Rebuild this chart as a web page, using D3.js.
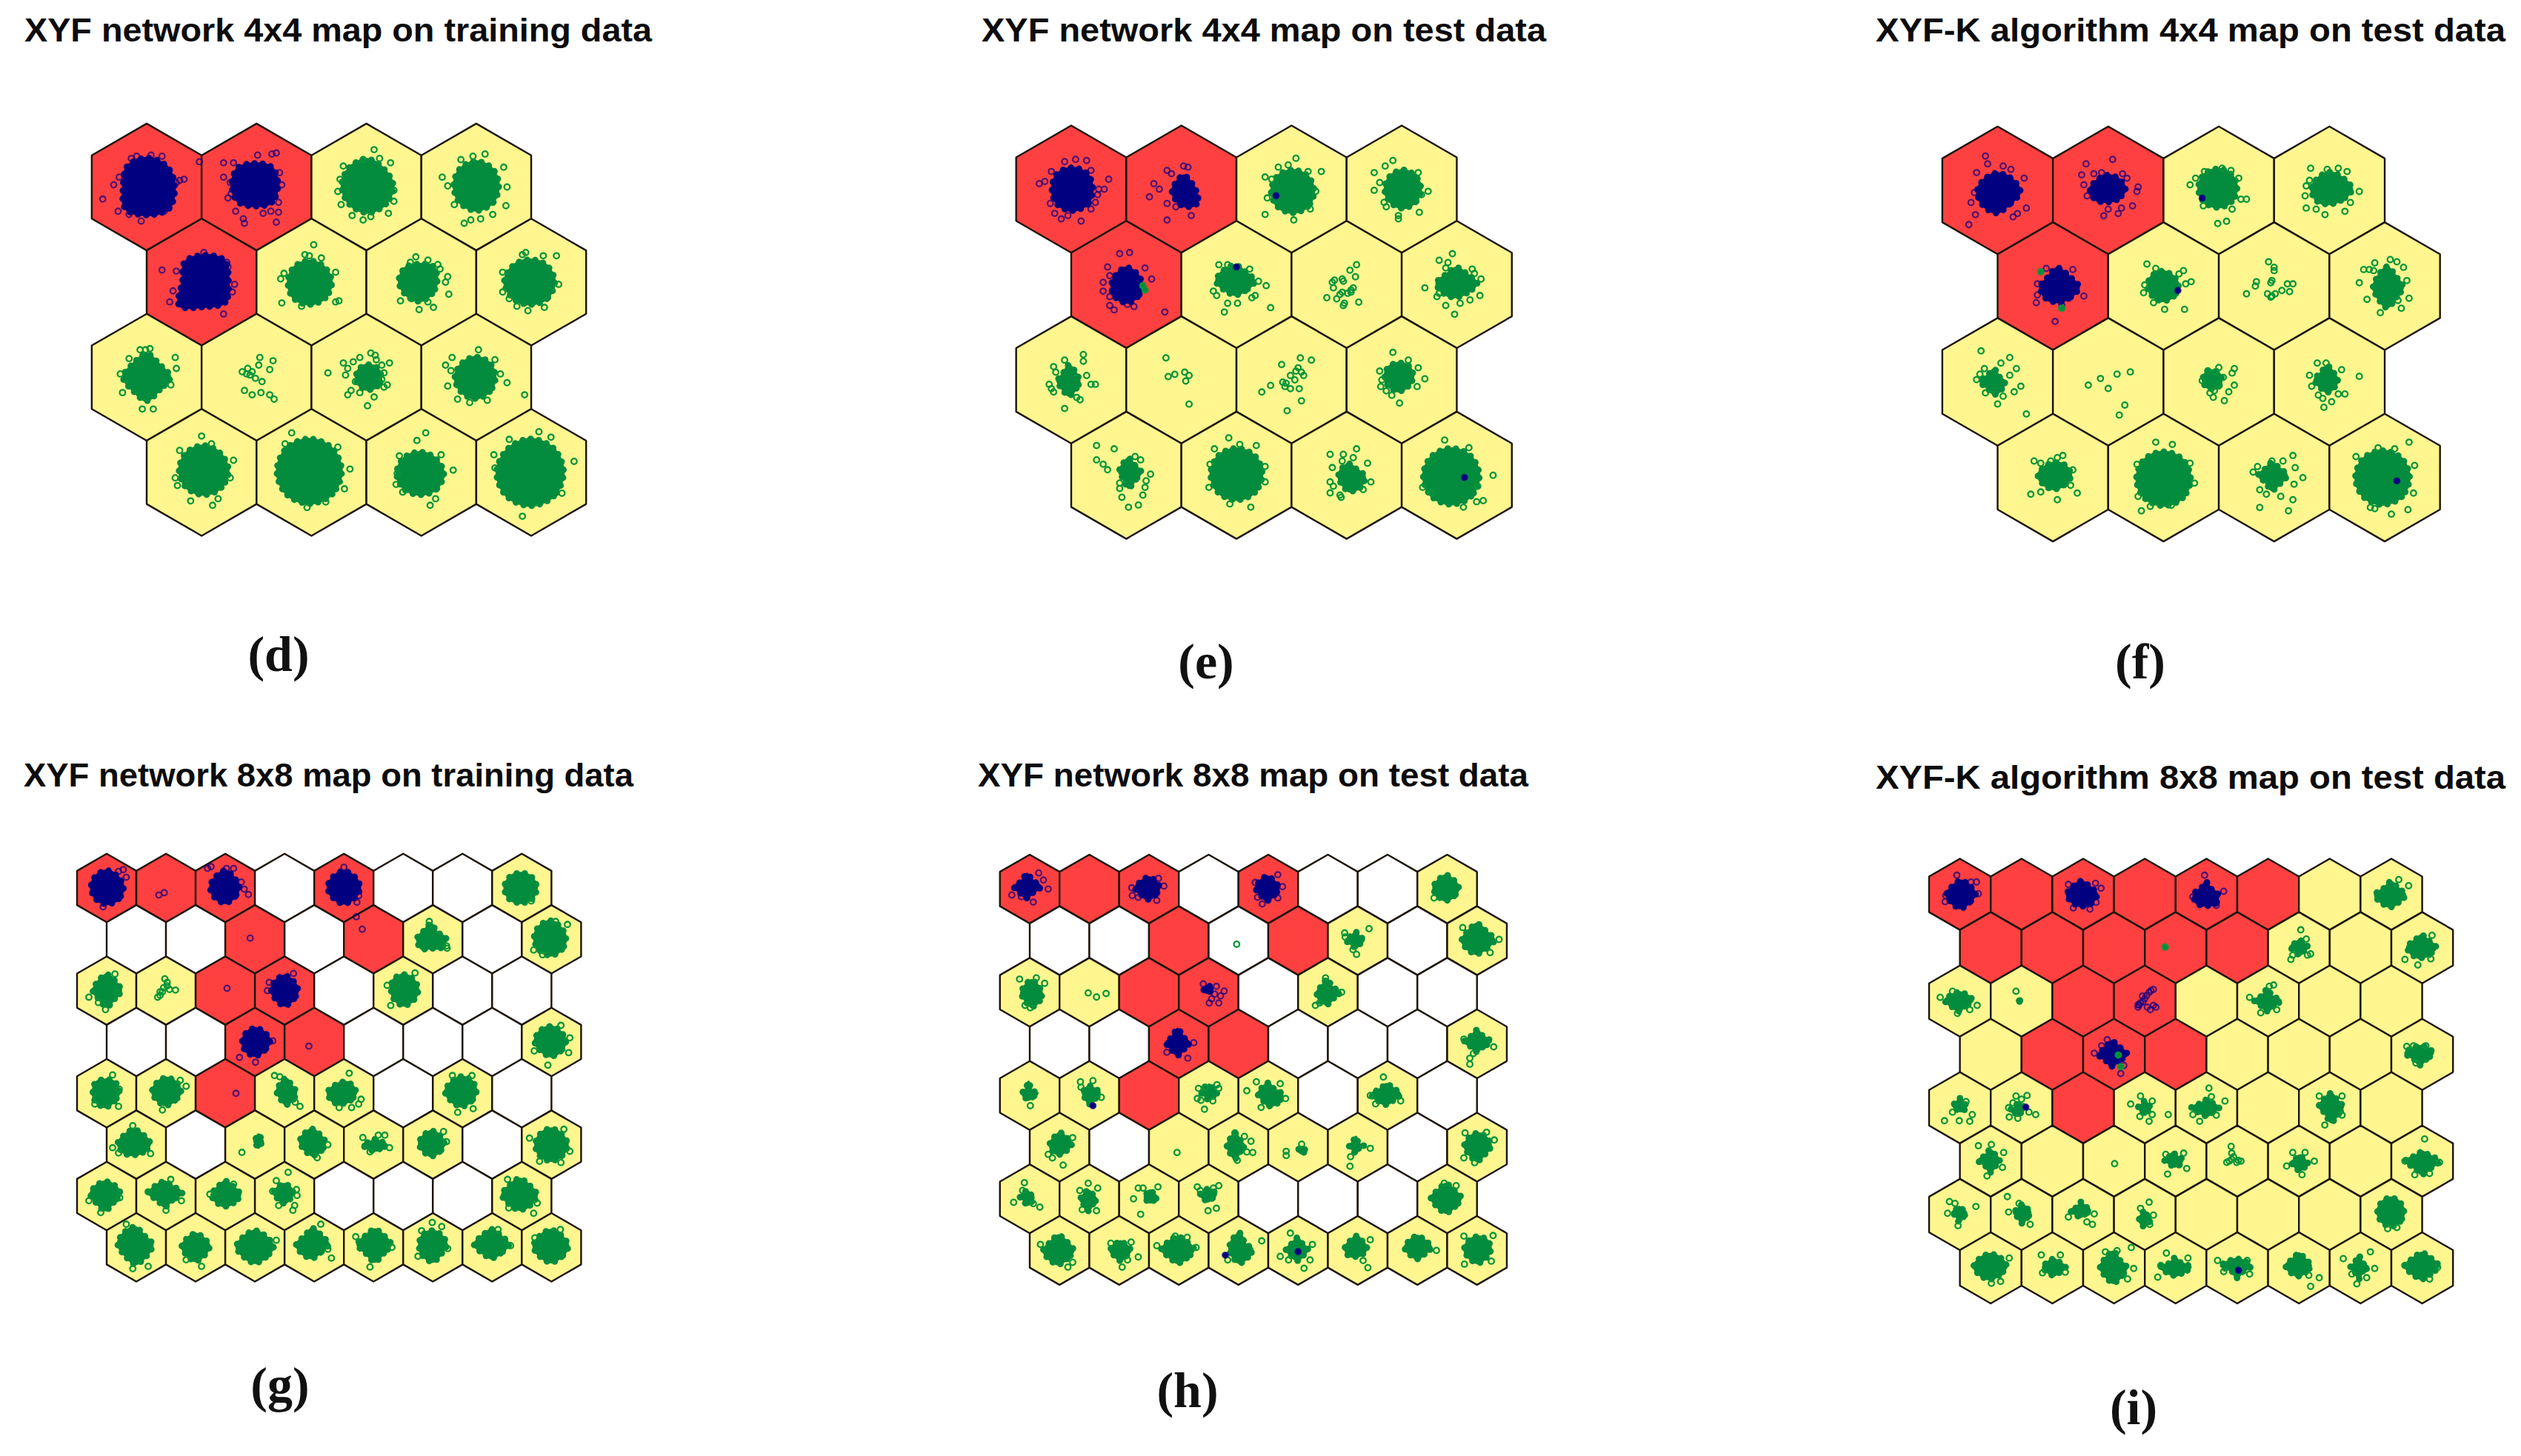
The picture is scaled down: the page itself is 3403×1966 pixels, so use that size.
<!DOCTYPE html>
<html>
<head>
<meta charset="utf-8">
<script src="https://cdn.jsdelivr.net/npm/d3@7"></script>
<style>
    html, body { margin: 0; background: #fff; }
</style>
</head>
<body>
<div id="canvas"></div>
<script>
// cell class per map row: R = class 1, Y = class 2, W = no unit class
var grid4 = ['RRYY', 'RYYY', 'YYYY', 'YYYY'];
var gridG = ['RRRWRWWY', 'WWRWRYWY', 'YYRRWYWW', 'WWRRWWWY', 'YYRYYWYW', 'YWYYYYWY', 'YYYYWWWY', 'YYYYYYYY'];
var gridI = ['RRRRRRYY', 'RRRRRYYY', 'YYRRYYYY', 'YRRRYYYY', 'YYRYYYYY', 'YYYYYYYY', 'YYYYYYYY', 'YYYYYYYY'];

// clouds, in hundredths of a map unit from the unit centre:
// [row, col, core (cx, cy, eight radii clockwise from east) or null, points, points of the other class]
var cloudsD = [
    [0,0,[1,0,27,30,28,31,25,29,29,28],[-40,11,-30,-2,-25,-9,34,-7,27,-4,14,-28,4,-29,-5,31,-26,22,16,22,48,-23,-9,-28,-14,-26,30,-6,20,18,-16,25]],
    [0,1,[-2,-2,24,25,22,24,23,24,22,25],[-30,-22,-21,-22,-30,-9,1,-29,14,-30,18,-31,-26,10,-19,22,-12,29,-11,33,6,24,13,22,20,23,18,32,23,-2,21,-13,20,14,-24,-4,-23,6]],
    [0,2,[1,-1,26,26,27,26,26,26,27,24],[7,-34,-3,-25,22,-22,-21,-19,-23,16,-3,30,20,24,-24,-7,25,3,12,-26,25,13,-26,4,4,27,-13,26]],
    [0,3,[0,-1,23,24,25,24,23,24,25,24],[8,-30,-31,-9,-26,-1,-11,33,25,-18,28,0,27,17,-20,16,15,25,4,29,-14,-25,-3,-28,-5,30]],
    [1,0,[2,-1,25,30,26,34,22,27,26,29],[2,-27,-36,-11,-26,8,-29,18,-20,13,30,2,28,9,21,13,20,29,-23,-10,23,-18,24,-14]],
    [1,1,[-2,0,23,23,23,23,22,22,22,22],[2,-34,-27,19,22,-9,22,18,-9,22,-6,-25,-28,-3,-2,-24,9,-22,25,17,-25,-8]],
    [1,2,[-2,-1,19,19,21,20,21,20,18,21],[-5,-23,6,-20,25,11,-19,17,-2,25,11,23,22,0,15,-16,-9,15,-10,-18,17,-12,24,-5,6,18]],
    [1,3,[-1,0,25,24,23,24,26,24,23,24],[23,-24,-5,-27,-26,9,-20,15,-3,26,12,23,25,2,-13,22,-8,-25,11,-24,-26,-9]],
    [2,0,[0,0,24,19,24,20,24,20,24,19],[26,-18,-16,-17,-22,14,-4,29,6,29,22,7,-1,-25,27,-8,-24,-3,-6,-25,3,-26]],
    [2,1,null,[3,-18,15,-15,12,-7,2,-11,-8,-8,-13,-5,-6,-2,-1,1,5,4,-11,12,-4,16,4,14,12,16,16,20,-4,-5,-9,-3]],
    [2,2,[2,0,14,14,14,14,14,14,14,14],[-35,-4,4,-22,21,-13,-21,-13,-12,-14,-17,16,-6,14,7,18,1,26,19,7,-19,-2,9,-16,16,-4,-10,4,14,2,-6,-18,-17,-8,8,-20,16,9,-14,12,14,-11]],
    [2,3,[-1,0,21,21,22,21,21,20,21,21],[-22,-18,-28,-11,44,16,28,5,17,-16,-6,23,-26,8,2,-25,-17,20,10,21,-23,-6,22,-3]],
    [3,0,[2,-2,25,25,25,25,25,25,25,24],[0,-33,-20,-20,29,-11,10,30,-22,12,26,5,9,-26,-10,26,15,24,-24,5]],
    [3,1,[-2,-1,32,32,32,32,32,32,32,32],[-18,-36,35,-3,24,-23,-4,32,13,27,-24,-26,30,15]],
    [3,2,[-1,1,24,23,22,23,24,23,22,22],[4,-36,-4,-29,18,-16,29,-2,8,30,13,24,-22,1,-17,18,-20,-15,-23,11]],
    [3,3,[-1,0,33,33,33,33,33,32,33,33],[7,-37,39,-10,-8,40,18,-32,28,19,-34,-16,-33,-4,-20,-30]]
];
var cloudsE = [
    [0,0,[1,0,21,22,22,22,21,22,22,22],[-29,-5,-18,-16,-6,-25,4,-27,14,-26,34,-9,30,0,18,-17,-19,13,-9,27,9,29,22,12,18,18,-3,24,25,0,-24,-7,-15,22,24,5]],
    [0,1,[2,2,14,19,16,13,13,13,17,13],[-13,-17,2,-21,-25,-5,-20,0,-29,7,-13,13,-13,28,9,24,-5,16,-9,-14,6,-20,15,8]],
    [0,2,[1,2,22,22,22,22,22,22,22,22],[4,-28,27,-16,15,-16,-12,-20,-24,-11,-24,23,2,28,17,18,22,2,-22,8,-18,-9,-3,-22]],
    [0,3,[1,0,19,19,20,19,19,19,20,19],[-8,-26,-15,-21,-25,-15,-20,-6,-25,1,24,2,16,21,-3,27,-14,16,15,-15,-16,12,-3,24,18,5]],
    [1,0,[0,1,17,17,18,17,16,16,19,17],[-6,-28,3,-29,-17,-16,-21,-2,-21,6,23,-5,17,-15,-15,19,-11,23,35,25,1,18,-15,-8,-15,11,7,20]],
    [1,1,[-1,-3,20,15,15,15,20,17,17,15],[-16,-18,-8,-18,27,1,17,10,31,21,-11,25,1,17,-8,17,20,-3,-18,10,-21,6,12,-14,14,12]],
    [1,2,null,[9,-18,3,-13,8,-7,-13,-2,-4,-5,6,3,1,8,-6,9,-18,12,-9,13,11,16,-3,19,-12,3,-4,7,4,7,-3,-3,-11,-4,-2,17,4,5]],
    [1,3,[0,-1,21,15,15,17,21,15,17,15],[-4,-28,-16,-22,-8,-20,-29,3,22,-5,21,10,12,14,-2,27,3,17,-18,11,-10,19,14,-14,-10,-15,16,-10,-16,8]],
    [2,0,[-2,1,12,12,16,12,13,11,17,12],[11,-23,-6,-18,-16,-12,14,-4,22,4,18,4,-18,8,-20,4,5,16,-6,26,11,-17,-14,-7,-16,11,8,18]],
    [2,1,null,[-14,-20,-12,-3,-6,-5,3,-7,7,-4,4,1,7,22]],
    [2,2,null,[-9,-14,8,-20,18,-18,4,-8,9,-7,-1,-4,-8,2,-1,8,7,8,-19,5,-27,11,9,19,-4,28,11,-4,-6,6,3,0,6,-11,-5,3]],
    [2,3,[-3,-3,16,15,16,15,15,15,15,16],[-8,-25,-20,-8,-19,6,15,-11,21,-1,-2,21,-9,14,6,-18,-18,0,-14,10,14,6]],
    [3,0,[2,-3,14,12,17,10,11,11,15,11],[-27,-27,-11,-24,13,-14,-27,-14,-17,-5,22,-1,15,18,-4,20,2,29,11,27,17,11,-6,7,-6,12,8,-17,18,5,-21,-10]],
    [3,1,[0,-1,26,26,26,26,26,26,26,26],[-7,-34,18,-27,-20,-24,-25,11,26,6,13,29,3,-28,-24,-10,-6,26,26,-8]],
    [3,2,[2,1,17,17,16,12,12,12,14,12],[9,-24,-3,-19,-15,-19,19,-11,22,6,-15,6,-15,16,-5,20,-13,-7,-4,-13,15,13,6,-16,-6,18,-12,10]],
    [3,3,[-5,1,28,28,28,28,28,28,28,28],[-11,-32,33,0,24,23,18,24,-31,11,-23,16,11,-25,-25,-12,6,29,19,10]]
];
var cloudsF = [
    [0,0,[-1,1,24,19,22,20,20,18,19,20],[-11,-31,-9,-24,-19,-16,5,-22,-24,11,-20,22,-26,31,26,16,14,24,24,-11,12,-19,-21,2,18,21]],
    [0,1,[-2,-1,20,16,14,16,17,14,15,17],[-20,-24,4,-28,13,-15,17,-11,-24,-14,-22,-5,27,-3,22,14,-4,23,9,21,0,17,26,1,-6,-16,-13,-15,-19,5,12,16]],
    [0,2,[-1,-2,20,20,20,20,20,20,20,20],[-26,-5,-21,-11,11,-18,18,-11,25,8,20,8,-1,30,7,28,12,17,-13,-17,3,-20,-14,14]],
    [0,3,[0,-1,23,17,16,18,19,17,18,18],[-17,-20,-21,-4,-22,5,-21,16,-12,17,-4,22,8,-20,16,-17,27,1,14,19,-18,-9,-2,-19,19,11]],
    [1,0,[4,1,22,17,16,17,18,15,20,17],[2,32,28,9,-15,15,8,17,18,-15,-14,-2,-6,-16,-14,8,20,3]],
    [1,1,[-1,-1,17,17,17,16,16,15,15,15],[-15,-20,18,-14,25,-4,19,21,1,21,-9,15,-18,6,20,-2,-7,-16,-17,-1,14,-11]],
    [1,2,null,[-5,-22,0,-14,-16,-4,-17,0,-25,7,-2,-5,17,-2,12,-2,7,4,14,5,-6,7,-2,9,1,7,-3,-3,0,-17,-3,10]],
    [1,3,[2,1,17,15,21,15,15,15,21,15],[-19,-15,-14,-15,-9,-21,5,-24,11,-22,17,-17,-23,-3,-16,12,22,11,15,20,20,-5,-10,-14,12,13,-4,24]],
    [2,0,[-3,0,12,12,14,11,15,11,14,9],[-15,-28,11,-22,3,-17,17,-12,11,-6,21,4,15,9,-19,-2,26,29,0,20,-11,10,-12,-12,-16,-7,5,13]],
    [2,1,null,[-18,3,-7,-3,0,6,8,-7,20,-9,15,21,10,30]],
    [2,2,[-6,-2,11,11,11,11,11,11,11,11],[0,-13,14,-12,12,-8,14,3,9,9,5,17,-5,14,-4,8,-15,-1,0,2,-10,-10,4,-4,-3,-9,-8,10]],
    [2,3,[-2,-2,12,12,14,12,14,11,15,11],[-11,-17,27,-5,-18,-6,11,-11,14,11,-10,12,-5,23,2,18,-16,4,-3,-17,8,11,-6,15]],
    [3,0,[1,-2,18,15,15,15,17,14,14,16],[-20,15,22,14,4,20,-11,13,-17,-15,-2,-15,9,-20,18,-7,-11,-13,16,7,4,-18]],
    [3,1,[0,1,27,27,27,27,27,27,27,27],[-7,-32,8,-30,-20,30,28,5,24,-13,-23,17,7,25,-24,-12,-12,26]],
    [3,2,[-2,-2,16,13,16,11,15,11,14,12],[17,-20,-19,-5,26,0,17,20,13,30,-13,27,6,17,-7,15,-2,-15,19,-9,-13,11,8,-15,18,6,-15,-10]],
    [3,3,[-2,0,27,27,27,27,27,27,27,27],[22,-32,27,-11,6,33,-26,-19,21,29,9,-26,-9,28,-13,27,26,14,-6,-27]]
];
var cloudsG = [
    [0,0,[1,-1,32,32,33,32,32,32,33,30],[28,-31,33,-18,-6,32,20,-28]],
    [0,1,null,[-12,12,-3,8]],
    [0,2,[0,-2,28,28,32,30,30,28,32,26],[-30,-33,39,11,27,-10,32,2,-24,-36,2,-33,14,-33]],
    [0,4,[0,-1,32,30,32,30,32,30,32,30],[22,24,25,13,0,-35]],
    [0,7,[-2,-1,32,32,31,32,32,30,29,30],[16,22]],
    [1,2,null,[-8,-2]],
    [1,4,null,[-29,-38,-19,-17]],
    [1,5,[-3,-2,30,28,22,29,28,22,29,19],[23,11,-6,-30,24,15]],
    [1,7,[-2,-2,31,32,34,32,32,32,34,30],[27,-25,7,-30,-15,26,-30,18]],
    [2,0,[0,0,29,24,32,24,28,26,32,26],[-30,11,-2,32,18,3,14,-28,-14,20]],
    [2,1,null,[-2,-20,2,-14,-6,2,-14,11,-10,2,6,-2,16,-1,2,-8,-10,8,-4,-5]],
    [2,2,null,[3,-4]],
    [2,3,[0,-2,27,27,32,27,27,26,28,25],[15,-29,-26,-14,-29,0]],
    [2,5,[1,-2,29,29,32,28,26,29,30,28],[-27,-9,-21,25,20,-30]],
    [3,2,[1,-1,29,26,29,28,27,26,27,26],[1,34,30,-2,-26,26]],
    [3,3,null,[-9,7]],
    [3,7,[-1,-1,30,28,30,28,32,30,30,28],[31,-7,29,18,-6,39,-29,15,16,-28]],
    [4,0,[-2,-2,28,26,30,28,26,28,26,28],[10,-31,21,-7,-20,18,20,22]],
    [4,1,[0,-3,30,26,28,26,28,26,28,28],[34,-12,24,-22,-6,28]],
    [4,2,null,[18,0]],
    [4,3,[2,-3,22,23,27,19,20,20,27,19],[-17,-30,26,22,18,15,-8,-28]],
    [4,4,[-2,-2,27,24,24,28,30,22,22,24],[9,-34,29,10,13,24,-8,24,25,18]],
    [4,6,[-2,-3,30,28,30,28,32,28,30,30],[16,-30,-17,-30,-8,32,18,26]],
    [5,0,[-4,-2,32,26,24,28,32,26,28,26],[-40,5,24,15,-6,-32,-30,14]],
    [5,2,[6,-6,12,11,16,11,12,11,16,11],[-22,13]],
    [5,3,[-3,-5,26,26,28,24,26,24,26,22],[23,0,5,22]],
    [5,4,[3,0,24,15,15,17,26,13,14,14],[19,-16,27,5,-18,-12,-6,12,8,-16]],
    [5,5,[-2,-2,26,24,26,24,26,24,26,24],[18,-22,23,-5]],
    [5,7,[-1,0,33,31,32,31,31,30,32,30],[-37,-11,21,-26,31,11,16,30,-20,28]],
    [6,0,[-2,-3,30,24,32,26,30,26,26,26],[22,3,-10,28,-30,8]],
    [6,1,[-2,-5,34,22,28,22,32,24,24,22],[8,-28,-30,-7,26,8,0,24]],
    [6,2,[0,-2,30,24,24,24,28,23,28,24],[-26,-3,14,-20]],
    [6,3,[-1,-5,20,19,22,19,22,19,20,19],[6,-40,-14,-26,20,-11,17,16,21,-1,-10,16,-20,-8,14,24]],
    [6,7,[-4,-2,34,30,30,28,34,28,32,28],[20,29,-24,-28,26,12,-22,20]],
    [7,0,[-2,-5,34,32,38,30,34,32,34,26],[20,32,-17,-39,-6,36]],
    [7,1,[0,-2,28,26,30,26,28,24,26,24],[10,32,-16,21]],
    [7,2,[0,-1,36,30,32,30,36,30,32,30],[36,-12]],
    [7,3,[-3,-5,32,24,28,28,32,24,32,26],[11,-39,29,18,23,3]],
    [7,4,[2,-5,32,26,34,26,34,26,30,26],[-30,-18,31,0,-6,33]],
    [7,5,[0,-5,28,26,34,30,28,28,28,26],[-1,-42,15,-35,-25,15,-19,-28,25,2]],
    [7,6,[-1,-5,34,26,28,26,34,26,30,26],[31,-3,10,-30]],
    [7,7,[-1,-2,34,30,32,30,34,30,32,30],[-28,-16,15,-30]]
];
var cloudsH = [
    [0,0,[-5,-4,28,19,24,20,26,17,26,19],[-30,10,31,0,15,-27,23,-15,-14,13,6,22]],
    [0,2,[-2,-2,24,22,24,21,26,20,22,22],[-29,-2,25,-5,13,19,-28,11,-18,14,16,-18]],
    [0,4,[-2,-2,24,22,26,21,24,21,24,21],[-22,-11,16,-24,16,15,-10,25,24,-4,-18,14]],
    [0,7,[-2,-2,26,24,26,24,26,23,26,23],[-22,15]],
    [1,3,null,[-3,6]],
    [1,5,[-3,-1,18,14,18,15,22,15,18,13],[19,-20,-21,-6,-2,23,-8,15,-22,-13]],
    [1,7,[0,-1,34,25,28,27,30,26,32,26],[37,-2,-24,-22,22,20]],
    [2,0,[3,1,22,24,28,21,22,21,26,21],[-17,-22,11,-24,25,-15,1,26,-8,22]],
    [2,1,null,[-2,1,12,8,28,2]],
    [2,3,[-1,-5,12,10,11,11,12,11,10,11],[26,-2,13,-10,5,11,17,18,1,18,10,3,-9,-14,20,6]],
    [2,5,[-1,-1,26,20,26,24,22,18,26,16],[-21,22,23,0,-14,18,-4,-24]],
    [3,2,[-2,-2,24,20,26,20,24,18,28,18],[25,-2,15,24,-20,14]],
    [3,7,[0,-4,28,18,22,18,26,18,24,18],[28,5,-12,34,-22,-8,-12,24,-6,16]],
    [4,0,[-2,-4,20,14,16,14,16,12,24,12],[1,17]],
    [4,1,[0,-5,22,19,24,16,16,14,16,15],[-15,-23,6,-25,20,3,-14,-14]],
    [4,3,[1,-5,18,14,18,14,18,14,18,14],[-17,-12,17,-12,-13,8,-7,23,7,9,-19,5,14,-18,-6,-14]],
    [4,4,[0,-2,28,26,24,18,22,20,24,18],[-36,-8,29,5,-20,-23,-12,20,20,-20]],
    [4,6,[-2,-2,28,20,22,22,30,18,22,20],[-7,-31,-29,0,22,9,-20,14]],
    [5,0,[1,-5,24,20,22,22,22,20,24,20],[-19,12,6,30,22,-16,-12,18]],
    [5,2,null,[-3,9]],
    [5,3,[-6,-2,20,18,26,18,18,18,26,18],[24,9,21,-10,-6,-24,14,8,-2,22,10,-18]],
    [5,4,[6,5,10,10,10,10,10,10,10,10],[6,-5,-20,7,-20,14]],
    [5,5,[-3,-2,18,11,18,13,16,13,20,11],[21,2,-13,32,-12,16]],
    [5,7,[0,-2,28,24,30,24,26,24,26,26],[29,-12,-20,-24,16,-25,-4,26,-22,18]],
    [6,0,[-5,-3,16,16,18,12,16,12,16,12],[-27,6,-9,-27,17,14,6,8,-12,-14]],
    [6,1,[-2,1,18,16,24,16,18,16,20,16],[-2,-26,-16,-14,14,-18,-12,18,12,20]],
    [6,2,[2,-3,16,13,14,13,14,13,16,13],[-26,0,-14,26,-18,-18,15,-20,-10,-18]],
    [6,3,[-1,-7,18,14,16,15,18,14,14,15],[-19,-20,13,16,-1,20,17,-22,-14,-14,8,-18]],
    [6,7,[-2,-2,30,26,30,26,30,23,28,23],[15,-22,-5,-26]],
    [7,0,[-2,0,30,25,28,26,30,24,30,25],[-32,-10,14,28,22,20]],
    [7,1,[2,0,22,18,22,18,22,18,20,18],[32,11,5,28,20,-14,-14,-12,14,16]],
    [7,2,[-2,-2,32,26,28,24,32,24,26,24],[29,-5,-37,-8,-6,-24,14,-22]],
    [7,3,[2,-2,26,24,28,22,22,24,32,18],[39,-16,-18,16]],
    [7,4,[-1,-2,22,19,24,20,24,18,24,17],[-13,-29,24,-10,-30,10,10,30,-16,16,20,16]],
    [7,5,[-2,-5,22,20,20,24,24,20,24,19],[17,29,21,-18,9,17]],
    [7,6,[0,-5,28,21,24,22,26,22,24,22],[32,0]],
    [7,7,[2,-2,26,24,28,26,28,26,26,26],[-21,23,27,-25,-22,-24,24,18]]
];
var cloudsI = [
    [0,0,[2,-1,28,24,28,26,28,23,26,23],[-5,-31,-23,2,27,-20,30,-1,18,-20,-24,12]],
    [0,2,[-3,0,30,26,24,24,28,23,26,23],[29,-10,-24,-16,11,24,21,13,-16,22,20,-18]],
    [0,4,[-1,-1,24,27,24,26,24,16,24,16],[-3,-31,28,-5,-22,4,16,18]],
    [0,7,[-1,1,28,22,24,24,30,20,26,21],[28,-14,12,-24]],
    [1,3,null,[]],
    [1,5,[1,-1,18,14,18,14,20,14,16,14],[3,-29,19,10,-13,19,12,-14,14,12,-10,12]],
    [1,7,[-1,-1,28,22,22,24,28,20,24,20],[-28,19,-7,28,16,-20,14,18]],
    [2,0,[-1,-1,26,18,22,20,28,19,18,19],[-32,-6,28,7,16,14,-4,20,-12,-16]],
    [2,1,[-5,-1,7,7,7,7,7,7,7,7],[-9,-16]],
    [2,3,null,[14,-19,7,-14,0,-4,-7,3,-11,10,14,7,4,10,-4,-8,9,14,-9,6,-3,1,3,-9,10,-17,-11,6,18,10]],
    [2,5,[-1,-1,26,18,22,18,26,16,24,15],[-30,-6,-12,19,9,-26,2,-24,14,14]],
    [3,2,[-4,0,30,20,24,18,26,19,26,22],[-32,-2,11,31,-11,-24,16,18,-20,-14]],
    [3,7,[-4,-2,26,19,24,18,28,18,16,19],[-25,-13,-14,-14,6,-14,-10,14]],
    [4,0,[0,-4,14,15,14,13,16,12,16,12],[-25,21,-1,21,16,22,20,11,-12,7,10,-10]],
    [4,1,[-6,4,14,11,14,11,18,11,16,16],[-20,15,-21,0,23,11,12,7,-9,-19,9,-20,-6,17,0,-14,-14,-8]],
    [4,3,[0,0,14,12,16,12,16,12,16,12],[-23,-6,-7,-19,38,11,12,11,7,22,12,-11,-8,14]],
    [4,4,[1,0,24,16,18,18,30,16,18,16],[4,-32,30,-11,-22,11,-11,22,8,-18,16,12]],
    [4,6,[2,-2,24,22,30,19,24,21,26,19],[20,-19,-17,-19,-8,28,20,12]],
    [5,0,[-1,-1,20,17,24,16,24,16,22,17],[-20,-25,1,-27,21,-14,19,10,-6,24]],
    [5,2,null,[1,4]],
    [5,3,[-4,-3,20,18,16,14,20,12,16,12],[-13,21,13,-13,-16,-11,18,12]],
    [5,4,null,[-10,-24,-9,-13,-9,-3,-17,2,-1,2,6,0,-6,-7,-13,0,2,-1]],
    [5,5,[1,2,18,16,18,15,18,13,16,13],[-20,8,25,0,5,22,-10,-14,10,-14]],
    [5,7,[0,0,32,22,26,21,32,18,20,19],[4,-36,-28,0,28,2,-12,22,12,20]],
    [6,0,[-1,-3,16,14,20,12,16,12,14,12],[-17,-21,26,-13,-3,18,-20,-2,-8,-18]],
    [6,1,[1,-3,18,16,22,15,18,14,18,15],[-23,-29,-21,-4,14,16,-4,-18]],
    [6,2,[-4,-7,20,14,16,15,22,12,18,14],[18,-1,15,16,-24,4,6,12]],
    [6,3,[-1,4,14,16,20,15,12,10,16,10],[7,-20,-7,-10,14,1,8,16]],
    [6,7,[-1,-4,26,26,28,26,26,26,28,26],[-6,23,9,21]],
    [7,0,[-2,-3,32,26,26,26,30,24,24,26],[30,-16,1,25,16,22]],
    [7,1,[2,-1,24,17,18,17,22,17,18,17],[-18,-21,13,-21,21,7,-16,8]],
    [7,2,[-1,-1,26,24,30,24,26,24,30,20],[28,-33,5,-28,-14,-26,32,1,22,18]],
    [7,3,[-1,-1,30,19,18,19,28,15,20,16],[-15,-24,-29,15,20,-16,-24,-4]],
    [7,4,[-1,-3,28,18,24,16,30,18,16,18],[-32,-12,20,10,-22,6,16,-12]],
    [7,5,[0,-4,24,20,22,22,26,19,24,19],[19,30,33,16,16,12]],
    [7,6,[-3,-1,20,14,24,14,18,14,24,14],[-28,-15,16,-26,23,1,-6,26,10,16,-14,10]],
    [7,7,[-1,-3,32,24,26,24,32,23,26,24],[-28,-4,25,-1,12,18]]
];
// points of the other class, same layout: [panel index, row, col, points]
var strayPoints = [
    [1,0,2,[-14,6]], [1,1,0,[15,1,17,5]], [1,1,1,[0,-16]], [1,3,3,[7,2]],
    [2,0,2,[-15,7]], [2,1,0,[-11,-13,8,20]], [2,1,1,[13,4]], [2,3,3,[11,3]],
    [4,4,1,[6,17]], [4,7,3,[-22,8]], [4,7,4,[0,2]],
    [5,1,3,[-17,-1]], [5,3,2,[11,20,7,1]], [5,4,1,[7,-1]], [5,7,4,[2,4]]
];

var panelTitles = [
    'XYF network 4x4 map on training data',
    'XYF network 4x4 map on test data',
    'XYF-K algorithm 4x4 map on test data',
    'XYF network 8x8 map on training data',
    'XYF network 8x8 map on test data',
    'XYF-K algorithm 8x8 map on test data'
];
var panelLetters = ['(d)', '(e)', '(f)', '(g)', '(h)', '(i)'];
var panelGrids = [grid4, grid4, grid4, gridG, gridG, gridI];
var panelClouds = [cloudsD, cloudsE, cloudsF, cloudsG, cloudsH, cloudsI];

// page layout: first unit centre, unit spacing, title box, letter anchor
var layout = [
    {x0: 198, y0: 252.5, step: 148.3, tx: 33, tw: 847, ty: 56, lx: 376, ly: 906},
    {x0: 1446, y0: 255.4, step: 148.7, tx: 1325, tw: 762, ty: 56, lx: 1628, ly: 916},
    {x0: 2696.5, y0: 257, step: 149.3, tx: 2532, tw: 850, ty: 56, lx: 2889, ly: 916},
    {x0: 144, y0: 1199, step: 80.05, tx: 32, tw: 823, ty: 1062, lx: 378, ly: 1893},
    {x0: 1390, y0: 1200.4, step: 80.5, tx: 1320, tw: 743, ty: 1062, lx: 1603, ly: 1900},
    {x0: 2645.6, y0: 1207.6, step: 83.2, tx: 2532, tw: 850, ty: 1065, lx: 2880, ly: 1923}
];

var cellColors = {R: '#ff4040', Y: '#fff68f', W: '#ffffff'};
var classColors = {R: '#000080', Y: '#048c3e'};
var pointStroke = {R: 'rgba(20,0,130,0.72)', Y: '#06963a'};
var rowStep = Math.sqrt(3) / 2;
var hexRadius = 1 / Math.sqrt(3);
var dotRadius = 3.8;

var svg = d3.select('#canvas').append('svg')
    .attr('width', 3403).attr('height', 1966)
    .style('display', 'block');

function otherClass(k) {
    return k === 'R' ? 'Y' : 'R';
}

function drawPanel(i) {
    var g = layout[i];
    var rows = panelGrids[i];
    var x = d3.scaleLinear().domain([0, 1]).range([g.x0, g.x0 + g.step]);
    var y = d3.scaleLinear().domain([0, 1]).range([g.y0, g.y0 + g.step]);
    var unitX = function(r, c) { return c + (r % 2 ? 0.5 : 0); };
    var unitY = function(r) { return r * rowStep; };

    var cells = [];
    rows.forEach(function(row, r) {
        row.split('').forEach(function(k, c) {
            cells.push({r: r, c: c, k: k});
        });
    });

    var hexLine = d3.line().curve(d3.curveLinearClosed);
    var panel = svg.append('g').attr('class', 'panel');

    panel.selectAll('path.unit').data(cells).enter().append('path')
        .attr('class', 'unit')
        .attr('d', function(d) {
            return hexLine(d3.range(6).map(function(j) {
                var a = Math.PI / 3 * j - Math.PI / 2;
                return [x(unitX(d.r, d.c) + hexRadius * Math.cos(a)), y(unitY(d.r) + hexRadius * Math.sin(a))];
            }));
        })
        .attr('fill', function(d) { return cellColors[d.k]; })
        .attr('stroke', '#1c1408')
        .attr('stroke-width', 2.4)
        .attr('stroke-linejoin', 'round');

    var coreLine = d3.line().curve(d3.curveCatmullRomClosed);
    var cores = [], dots = [];
    panelClouds[i].forEach(function(cloud) {
        var r = cloud[0], c = cloud[1];
        var k = rows[r][c] === 'R' ? 'R' : 'Y';
        var cx = unitX(r, c), cy = unitY(r);
        if (cloud[2]) cores.push({cx: cx, cy: cy, core: cloud[2], k: k});
        d3.range(0, cloud[3].length, 2).forEach(function(j) {
            dots.push({x: cx + cloud[3][j] / 100, y: cy + cloud[3][j + 1] / 100, k: k});
        });
    });
    strayPoints.filter(function(s) { return s[0] === i; }).forEach(function(s) {
        var k = rows[s[1]][s[2]] === 'R' ? 'R' : 'Y';
        d3.range(0, s[3].length, 2).forEach(function(j) {
            dots.push({x: unitX(s[1], s[2]) + s[3][j] / 100, y: unitY(s[1]) + s[3][j + 1] / 100, k: otherClass(k), stray: true});
        });
    });

    var cloudCores = panel.selectAll('g.core').data(cores).enter().append('g').attr('class', 'core');
    var corePath = function(d) {
        // radii reach the outer edge of the points, the scalloped stroke adds the rest
        return coreLine(d.core.slice(2).map(function(rad, j) {
            var a = Math.PI / 4 * j;
            var px = Math.max(rad / 100 * g.step - dotRadius, 1);
            return [x(d.cx + d.core[0] / 100) + px * Math.cos(a), y(d.cy + d.core[1] / 100) + px * Math.sin(a)];
        }));
    };
    cloudCores.append('path')
        .attr('d', corePath)
        .attr('fill', function(d) { return classColors[d.k]; })
        .attr('stroke', function(d) { return classColors[d.k]; })
        .attr('stroke-width', 3);
    cloudCores.append('path')
        .attr('d', corePath)
        .attr('fill', 'none')
        .attr('stroke', function(d) { return classColors[d.k]; })
        .attr('stroke-width', 2 * dotRadius + 1.4)
        .attr('stroke-linecap', 'round')
        .attr('stroke-dasharray', '0 11');

    // core goes first so the loose points sit on top, strays last
    dots.sort(function(a, b) { return (a.stray ? 1 : 0) - (b.stray ? 1 : 0); });
    panel.selectAll('circle').data(dots).enter().append('circle')
        .attr('cx', function(d) { return x(d.x); })
        .attr('cy', function(d) { return y(d.y); })
        .attr('r', dotRadius)
        .attr('fill', function(d) { return d.stray ? classColors[d.k] : 'none'; })
        .attr('stroke', function(d) { return pointStroke[d.k]; })
        .attr('stroke-width', 2.3);

    svg.append('text')
        .attr('x', g.tx).attr('y', g.ty)
        .attr('textLength', g.tw).attr('lengthAdjust', 'spacingAndGlyphs')
        .style('font-family', '"Liberation Sans", Arial, sans-serif')
        .style('font-weight', 700).style('font-size', '44px')
        .attr('fill', '#0c0c0c')
        .text(panelTitles[i]);

    svg.append('text')
        .attr('x', g.lx).attr('y', g.ly)
        .attr('text-anchor', 'middle')
        .style('font-family', '"Liberation Serif", "Times New Roman", serif')
        .style('font-weight', 700).style('font-size', '68px')
        .attr('fill', '#111')
        .text(panelLetters[i]);
}

d3.range(panelTitles.length).forEach(drawPanel);
</script>
</body>
</html>
